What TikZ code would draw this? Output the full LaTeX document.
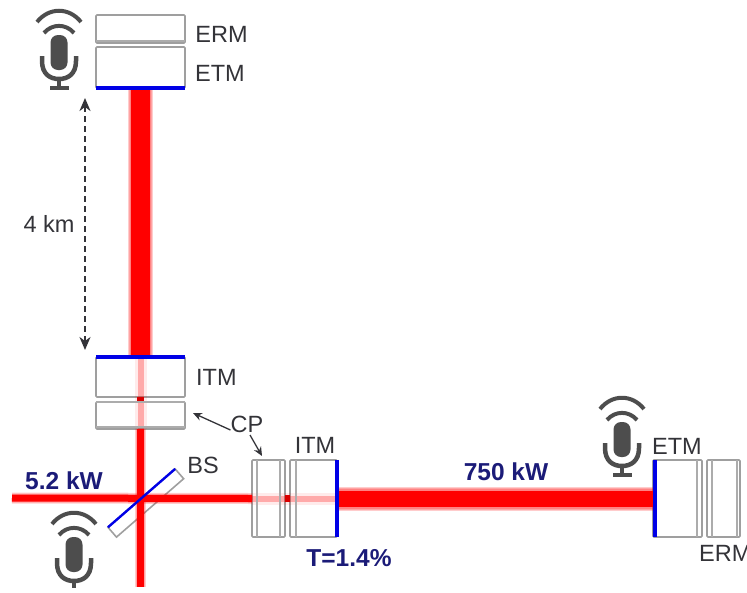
\documentclass[tikz,border=0pt]{standalone}
\usepackage{fontspec}
\setmainfont{Liberation Sans}
\usetikzlibrary{arrows.meta,positioning}
\definecolor{micgray}{HTML}{4D4D4D}
\definecolor{textgray}{HTML}{333338}
\definecolor{powerblue}{HTML}{1B1B78}
\definecolor{mirrorblue}{HTML}{0000E6}
\tikzset{
    mirror/.style = {draw=gray!75, line width=1.6pt, rounded corners=1pt, inner sep=0pt, outer sep=0pt},
    coat/.style = {draw=mirrorblue, line width=3.8pt},
    inner/.style = {draw=gray!65, line width=1.2pt},
    txt/.style = {text=textgray, font=\fontsize{23.5}{26}\selectfont, inner sep=0pt},
    power/.style = {text=powerblue, font=\fontsize{24.5}{27}\selectfont\bfseries, inner sep=0pt},
    point/.style = {draw=textgray, line width=1.3pt, -{Stealth[length=9pt,width=8pt,inset=3pt]}},
    mic/.pic = {
        \fill[micgray, rounded corners=7.5pt] (-8.5,-17) rectangle (8.5,18);
        \draw[micgray, line width=4.5pt] (-17,4) -- (-17,9) .. controls (-17,22) and (-9,27) .. (0,27) .. controls (9,27) and (17,22) .. (17,9) -- (17,4);
        \draw[micgray, line width=4.5pt] (0,27) -- (0,35);
        \fill[micgray] (-9.5,34) rectangle (9.5,38);
        \draw[micgray, line width=4pt] (-22,-30) .. controls (-10,-45) and (10,-45) .. (22,-30);
        \draw[micgray, line width=4pt] (-15,-19) .. controls (-7,-28.5) and (7,-28.5) .. (15,-19);
    }
}
\begin{document}
\begin{tikzpicture}[x=1pt, y=-1pt]
    \useasboundingbox (0,0) rectangle (747,592);
    \clip (0,0) rectangle (747,592);
    \node[mirror, minimum width=89pt, minimum height=28pt] (ermy) at (140.5,29) {};
    \node[mirror, minimum width=89pt, minimum height=41pt] (etmy) at (140.5,67.5) {};
    \node[mirror, minimum width=89pt, minimum height=40pt] (itmy) at (140.5,377) {};
    \node[mirror, minimum width=89pt, minimum height=27pt] (cpy) at (140.5,415.5) {};
    \node[mirror, minimum width=33pt, minimum height=77pt] (cpx) at (268.5,498.5) {};
    \node[mirror, minimum width=47pt, minimum height=77pt] (itmx) at (313.5,498.5) {};
    \node[mirror, minimum width=49pt, minimum height=77pt] (etmx) at (677.5,498.5) {};
    \node[mirror, minimum width=33pt, minimum height=77pt] (ermx) at (723.5,498.5) {};
    \node[mirror, rotate=41, minimum width=89pt, minimum height=13pt, rounded corners=0pt] (bs) at (145.8,503) {};
    \coordinate (laser) at (12,498);
    \coordinate (dark) at (140.5,587);
    \coordinate (armup) at (85,98);
    \coordinate (armdown) at (85,350);
    \coordinate (cpytip) at (193,413);
    \coordinate (cpxtail) at (250,435);
    \coordinate (cpxtip) at (262,456);
    \foreach \w in {21,23,25} {
        \draw[red, opacity=.2, line width=\w pt] (etmy.south) -- (itmy.north);
        \draw[red, opacity=.2, line width=\w pt-1pt] (itmx.east) -- (etmx.west);
    }
    \foreach \w in {9,11} {
        \draw[red, opacity=.2, line width=\w pt] (laser) -- (cpx.west);
        \draw[red, opacity=.2, line width=\w pt] (cpy.south) -- (dark);
    }
    \draw[red, line width=19pt] (etmy.south) -- (itmy.north);
    \draw[red, line width=16pt] (itmx.east) -- (etmx.west);
    \draw[red, line width=7pt] (laser) -- (cpx.west);
    \draw[red, line width=7pt] (cpy.south) -- (dark);
    \draw[red, opacity=.28, line width=6pt] (itmy.north) -- (cpy.south);
    \draw[red, opacity=.08, line width=12pt] (itmy.north) -- (cpy.south);
    \draw[red, opacity=.28, line width=6pt] (cpx.west) -- (itmx.east);
    \draw[red, opacity=.08, line width=12pt] (cpx.west) -- (itmx.east);
    \fill[red!85!black] (137,397) rectangle (144,402);
    \fill[red!85!black] (285,494.5) rectangle (290,501.5);
    \draw[inner] ([yshift=6pt]etmy.north west) -- ([yshift=6pt]etmy.north east);
    \draw[inner] ([yshift=-5pt]itmy.south west) -- ([yshift=-5pt]itmy.south east);
    \draw[inner] ([yshift=2pt]cpy.south west) -- ([yshift=2pt]cpy.south east);
    \draw[inner] ([xshift=5pt]cpx.north west) -- ([xshift=5pt]cpx.south west);
    \draw[inner] ([xshift=-5pt]cpx.north east) -- ([xshift=-5pt]cpx.south east);
    \draw[inner] ([xshift=6pt]itmx.north west) -- ([xshift=6pt]itmx.south west);
    \draw[inner] ([xshift=-5pt]etmx.north east) -- ([xshift=-5pt]etmx.south east);
    \draw[inner] ([xshift=5pt]ermx.north west) -- ([xshift=5pt]ermx.south west);
    \draw[inner] ([xshift=-3pt]ermx.north east) -- ([xshift=-3pt]ermx.south east);
    \draw[coat] (etmy.south west) -- (etmy.south east);
    \draw[coat] (itmy.north west) -- (itmy.north east);
    \draw[coat] (itmx.north east) -- (itmx.south east);
    \draw[coat] ([xshift=2pt]etmx.north west) -- ([xshift=2pt]etmx.south west);
    \draw[draw=mirrorblue, line width=2.4pt] (bs.north west) -- (bs.north east);
    \node[txt] (ermylabel) at (221.5,34) {ERM};
    \node[txt] (etmylabel) at (220,73) {ETM};
    \node[txt, right=11pt of itmy] (itmylabel) {ITM};
    \node[txt] (cplabel) at (247,424) {CP};
    \node[txt] (itmxlabel) at (315,445) {ITM};
    \node[txt] (etmxlabel) at (677,446) {ETM};
    \node[txt, anchor=west] (ermxlabel) at (699,553) {ERM};
    \node[txt] (bslabel) at (203,465) {BS};
    \node[txt] (kmlabel) at (49,224) {4 km};
    \node[power] (inlabel) at (64,481) {5.2 kW};
    \node[power] (armlabel) at (506,472) {750 kW};
    \node[power] (tlabel) at (349,558) {T=1.4\%};
    \draw[draw=textgray, line width=1.5pt, dash pattern=on 6pt off 4pt, {Stealth[length=13pt,width=11pt,inset=4pt]}-{Stealth[length=13pt,width=11pt,inset=4pt]}] (armup) -- (armdown);
    \draw[point] ([yshift=-6pt]cplabel.west) -- (cpytip);
    \draw[point] (cpxtail) -- (cpxtip);
    \pic (micy) at (59,52) {mic};
    \pic (micx) at (622,439) {mic};
    \begin{scope}
        \clip (0,0) rectangle (747,587);
        \pic (micbs) at (74,554) {mic};
    \end{scope}
\end{tikzpicture}
\end{document}
